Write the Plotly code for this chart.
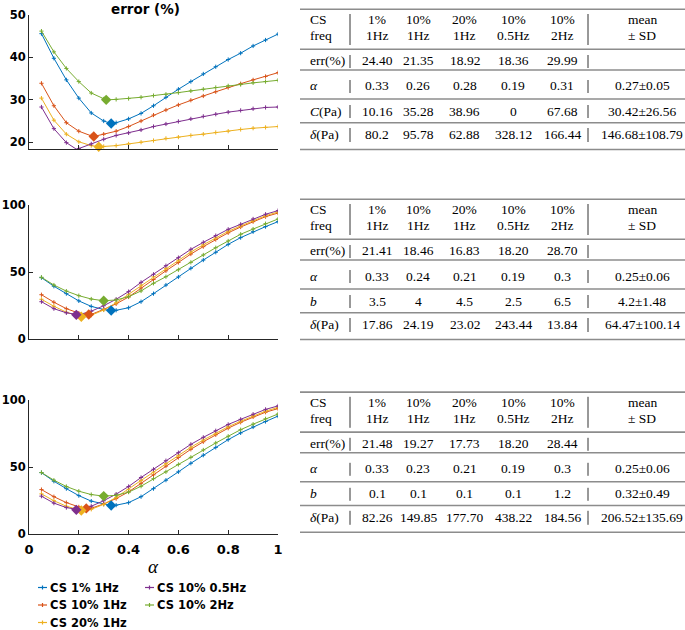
import plotly.graph_objects as go

W, H = 685, 630

# ---- data -------------------------------------------------------------------
ALPHA = [0.05, 0.10, 0.15, 0.20, 0.25, 0.30, 0.35, 0.40, 0.45, 0.50,
         0.55, 0.60, 0.65, 0.70, 0.75, 0.80, 0.85, 0.90, 0.95, 1.00]

SERIES = ["CS 1% 1Hz", "CS 10% 1Hz", "CS 20% 1Hz", "CS 10% 0.5Hz", "CS 10% 2Hz"]
COLORS = ["#0072BD", "#D95319", "#EDB120", "#7E2F8E", "#77AC30"]

# panel 1 (C, delta model): error (%) vs alpha
top_cs1_1hz = [45.6, 39.8, 34.7, 30.4, 26.9, 25.0, 24.6, 25.5, 26.8, 28.6,
               30.6, 32.5, 34.3, 36.1, 37.8, 39.5, 41.0, 42.7, 44.1, 45.5]
top_cs10_1hz = [33.9, 28.6, 24.6, 22.6, 21.5, 21.9, 22.6, 23.7, 25.0, 26.4,
                27.6, 28.8, 29.9, 30.9, 31.9, 32.9, 33.8, 34.7, 35.5, 36.4]
top_cs20_1hz = [30.4, 25.2, 21.9, 20.1, 19.2, 19.0, 19.2, 19.6, 20.0, 20.4,
                20.9, 21.2, 21.6, 21.9, 22.3, 22.6, 23.0, 23.3, 23.5, 23.7]
top_cs10_05hz = [28.3, 23.2, 19.9, 18.5, 19.6, 20.7, 21.6, 22.2, 22.9, 23.7,
                 24.3, 24.9, 25.5, 26.1, 26.6, 27.1, 27.5, 27.9, 28.2, 28.3]
top_cs10_2hz = [46.2, 41.3, 37.4, 34.3, 31.6, 30.2, 30.1, 30.3, 30.6, 31.0,
                31.3, 31.7, 32.1, 32.5, 32.9, 33.3, 33.6, 34.0, 34.3, 34.6]

# panel 2 (b, delta model)
mid_cs1_1hz = [45.9, 39.5, 34.0, 28.6, 24.5, 22.2, 21.6, 23.5, 28.0, 34.0,
               40.4, 46.4, 52.9, 59.0, 64.8, 70.7, 75.7, 80.1, 83.9, 87.6]
mid_cs10_1hz = [33.2, 27.6, 22.8, 19.5, 18.5, 22.3, 26.4, 31.5, 38.2, 44.5,
                51.0, 57.2, 63.5, 69.0, 74.3, 79.3, 83.6, 87.6, 91.3, 94.0]
mid_cs20_1hz = [29.8, 24.6, 20.2, 17.0, 17.9, 21.8, 27.2, 33.5, 40.3, 46.5,
                52.8, 58.9, 65.0, 70.4, 75.5, 80.4, 84.4, 88.4, 92.0, 94.8]
mid_cs10_05hz = [28.0, 22.8, 19.7, 18.3, 20.9, 25.0, 29.8, 35.5, 42.4, 48.4,
                 54.8, 60.8, 67.0, 72.2, 77.2, 81.9, 85.6, 89.6, 93.1, 95.8]
mid_cs10_2hz = [46.2, 40.4, 35.9, 32.5, 30.0, 29.0, 29.3, 31.7, 36.0, 41.7,
                46.6, 51.8, 57.3, 62.8, 68.2, 73.2, 78.2, 82.1, 86.1, 89.6]

# panel 3 (b, delta model, second fit)
bot_cs1_1hz = [45.9, 39.5, 34.0, 28.8, 24.7, 22.4, 21.7, 23.6, 28.0, 34.0,
               40.3, 46.5, 52.9, 58.9, 64.7, 70.5, 75.5, 79.9, 84.0, 88.0]
bot_cs10_1hz = [33.3, 28.0, 23.6, 20.4, 19.4, 22.6, 26.6, 31.6, 38.0, 44.3,
                50.8, 57.2, 63.3, 68.9, 74.1, 79.0, 83.4, 87.4, 90.9, 93.6]
bot_cs20_1hz = [30.1, 25.0, 20.9, 18.0, 18.6, 22.3, 27.5, 33.5, 40.1, 46.3,
                52.6, 58.8, 64.8, 70.2, 75.3, 80.1, 84.2, 88.2, 91.7, 94.5]
bot_cs10_05hz = [28.4, 23.2, 19.9, 18.3, 20.9, 25.0, 29.9, 35.6, 42.3, 48.4,
                 54.8, 60.8, 67.0, 72.2, 77.1, 81.8, 85.6, 89.4, 93.0, 95.6]
bot_cs10_2hz = [46.0, 40.3, 35.6, 32.1, 29.6, 28.6, 29.0, 31.4, 35.8, 41.4,
                46.5, 52.0, 57.3, 62.8, 68.0, 73.0, 77.9, 82.0, 86.0, 89.6]

# best fits (minimum error) = table rows err(%) and alpha
ERR_TOP = [24.40, 21.35, 18.92, 18.36, 29.99]
ALPHA_TOP = [0.33, 0.26, 0.28, 0.19, 0.31]
ERR_MID = [21.41, 18.46, 16.83, 18.20, 28.70]
ALPHA_MID = [0.33, 0.24, 0.21, 0.19, 0.3]
ERR_BOT = [21.48, 19.27, 17.73, 18.20, 28.44]
ALPHA_BOT = [0.33, 0.23, 0.21, 0.19, 0.3]

HEAD_CS = ["1%", "10%", "20%", "10%", "10%"]
HEAD_FREQ = ["1Hz", "1Hz", "1Hz", "0.5Hz", "2Hz"]

C_TOP = ["10.16", "35.28", "38.96", "0", "67.68"]
DELTA_TOP = ["80.2", "95.78", "62.88", "328.12", "166.44"]
MEAN_TOP = ["0.27±0.05", "30.42±26.56", "146.68±108.79"]

B_MID = ["3.5", "4", "4.5", "2.5", "6.5"]
DELTA_MID = ["17.86", "24.19", "23.02", "243.44", "13.84"]
MEAN_MID = ["0.25±0.06", "4.2±1.48", "64.47±100.14"]

B_BOT = ["0.1", "0.1", "0.1", "0.1", "1.2"]
DELTA_BOT = ["82.26", "149.85", "177.70", "438.22", "184.56"]
MEAN_BOT = ["0.25±0.06", "0.32±0.49", "206.52±135.69"]

panels = [
    dict(curves=[top_cs1_1hz, top_cs10_1hz, top_cs20_1hz, top_cs10_05hz, top_cs10_2hz],
         err=ERR_TOP, amin=ALPHA_TOP, yr=[18.4, 50], yt=[20, 30, 40, 50],
         ydom=(15, 149), param="<i>C</i>(Pa)", pvals=C_TOP, delta=DELTA_TOP,
         mean=MEAN_TOP, oy=0),
    dict(curves=[mid_cs1_1hz, mid_cs10_1hz, mid_cs20_1hz, mid_cs10_05hz, mid_cs10_2hz],
         err=ERR_MID, amin=ALPHA_MID, yr=[0, 100], yt=[0, 50, 100],
         ydom=(205, 339.3), param="<i>b</i>", pvals=B_MID, delta=DELTA_MID,
         mean=MEAN_MID, oy=190),
    dict(curves=[bot_cs1_1hz, bot_cs10_1hz, bot_cs20_1hz, bot_cs10_05hz, bot_cs10_2hz],
         err=ERR_BOT, amin=ALPHA_BOT, yr=[0, 100], yt=[0, 50, 100],
         ydom=(400, 534.3), param="<i>b</i>", pvals=B_BOT, delta=DELTA_BOT,
         mean=MEAN_BOT, oy=382.8),
]


def X(px):
    return px / W


def Y(py):
    return 1 - py / H


AX = "#262626"
TICKFONT = dict(family="DejaVu Sans", size=13, color="black", weight="bold")
YTICKFONT = dict(family="DejaVu Sans", size=11.5, color="black", weight="bold")
SERIF = dict(family="Liberation Serif", size=13.5, color="black")

fig = go.Figure()
shapes, annots = [], []

for k, p in enumerate(panels):
    xa = "x" if k == 0 else f"x{k+1}"
    ya = "y" if k == 0 else f"y{k+1}"
    # curves, with the best-fit point merged in
    for i, vals in enumerate(p["curves"]):
        pts = dict(zip(ALPHA, vals))
        pts[round(p["amin"][i], 2)] = p["err"][i]
        xs = sorted(pts)
        fig.add_trace(go.Scatter(
            x=xs, y=[pts[a] for a in xs], xaxis=xa, yaxis=ya, mode="lines+markers",
            line=dict(color=COLORS[i], width=1),
            marker=dict(symbol="cross-thin", size=3, line=dict(width=1, color=COLORS[i])),
            name=SERIES[i], showlegend=False, hoverinfo="skip"))
    for i in range(5):
        fig.add_trace(go.Scatter(
            x=[p["amin"][i]], y=[p["err"][i]], xaxis=xa, yaxis=ya, mode="markers",
            marker=dict(symbol="diamond", size=8, color=COLORS[i]),
            cliponaxis=False, showlegend=False, hoverinfo="skip"))

    last = k == 2
    fig.update_layout(**{
        ("xaxis" if k == 0 else f"xaxis{k+1}"): dict(
            domain=[X(29), X(278)], range=[0, 1], anchor=ya, automargin=False,
            tickvals=[0, 0.2, 0.4, 0.6, 0.8, 1],
            ticktext=["0", "0.2", "0.4", "0.6", "0.8", "1"],
            showticklabels=last, ticks="inside", ticklen=4, tickcolor=AX,
            showline=True, linecolor=AX, linewidth=1, showgrid=False,
            zeroline=False, tickfont=TICKFONT, ticklabelstandoff=3),
        ("yaxis" if k == 0 else f"yaxis{k+1}"): dict(
            domain=[Y(p["ydom"][1]), Y(p["ydom"][0])], range=p["yr"], anchor=xa,
            automargin=False, tickvals=p["yt"], ticks="inside", ticklen=4, tickcolor=AX,
            showline=True, linecolor=AX, linewidth=1, showgrid=False,
            zeroline=False, tickfont=YTICKFONT, ticklabelstandoff=0),
    })

    # ---- table to the right ----
    oy = p["oy"]
    col_x = [377, 418, 465, 513, 562]
    mean_x = 642
    for ry in [9.3, 49.3, 70, 99, 122.7, 149.5]:
        shapes.append(dict(type="line", xref="paper", yref="paper",
                           x0=X(300), x1=X(685), y0=Y(ry + oy), y1=Y(ry + oy),
                           line=dict(color="#8c8c8c", width=1.6)))
    for (y0, y1) in [(14, 45), (55, 68), (80, 93), (105, 118), (128, 142)]:
        for bx in (350, 588):
            shapes.append(dict(type="line", xref="paper", yref="paper",
                               x0=X(bx), x1=X(bx), y0=Y(y0 + oy), y1=Y(y1 + oy),
                               line=dict(color="#333333", width=1)))

    def txt(x, y, s, anchor="center"):
        annots.append(dict(x=X(x), y=Y(y + oy), xref="paper", yref="paper", text=s,
                           showarrow=False, xanchor=anchor, yanchor="middle", font=SERIF))

    txt(308, 19.8, "CS", "left")
    txt(308, 35.4, "freq", "left")
    for j in range(5):
        txt(col_x[j], 19.8, HEAD_CS[j])
        txt(col_x[j], 35.4, HEAD_FREQ[j])
    txt(mean_x, 19.8, "mean")
    txt(mean_x, 35.4, "± SD")
    rows = [("err(%)", [f"{v:.2f}" for v in p["err"]], ""),
            ("<i>α</i>", [f"{v:g}" for v in p["amin"]], p["mean"][0]),
            (p["param"], p["pvals"], p["mean"][1]),
            ("<i>δ</i>(Pa)", p["delta"], p["mean"][2])]
    for (label, vals, mean), ry in zip(rows, [61, 86, 111, 134.5]):
        txt(308, ry, label, "left")
        for j in range(5):
            txt(col_x[j], ry, vals[j])
        if mean:
            txt(mean_x, ry, mean)

# title and x label
annots.append(dict(x=X(145), y=Y(9), xref="paper", yref="paper", text="error (%)",
                   showarrow=False, xanchor="center", yanchor="middle",
                   font=dict(family="DejaVu Sans", size=13.5, color="black", weight="bold")))
annots.append(dict(x=X(153), y=Y(566), xref="paper", yref="paper", text="<i>α</i>",
                   showarrow=False, xanchor="center", yanchor="middle",
                   font=dict(family="Liberation Serif", size=19, color="black")))

# legend (two columns)
for i, name in enumerate(SERIES):
    col, row = (0, i) if i < 3 else (1, i - 3)
    lx = [38, 145][col]
    ly = [587.5, 605, 622.5][row]
    shapes.append(dict(type="line", xref="paper", yref="paper", x0=X(lx), x1=X(lx + 9),
                       y0=Y(ly), y1=Y(ly), line=dict(color=COLORS[i], width=1.2)))
    shapes.append(dict(type="line", xref="paper", yref="paper", x0=X(lx + 4.5), x1=X(lx + 4.5),
                       y0=Y(ly - 2), y1=Y(ly + 2), line=dict(color=COLORS[i], width=1.2)))
    annots.append(dict(x=X(lx + 9.5), y=Y(ly), xref="paper", yref="paper", text=name,
                       showarrow=False, xanchor="left", yanchor="middle",
                       font=dict(family="DejaVu Sans", size=11.5, color="black", weight="bold")))

fig.update_layout(width=W, height=H, margin=dict(l=0, r=0, t=0, b=0),
                  paper_bgcolor="white", plot_bgcolor="white",
                  shapes=shapes, annotations=annots, showlegend=False)

fig.write_html("out.html", config={"displayModeBar": False},
               post_script="document.body.style.margin='0';")
